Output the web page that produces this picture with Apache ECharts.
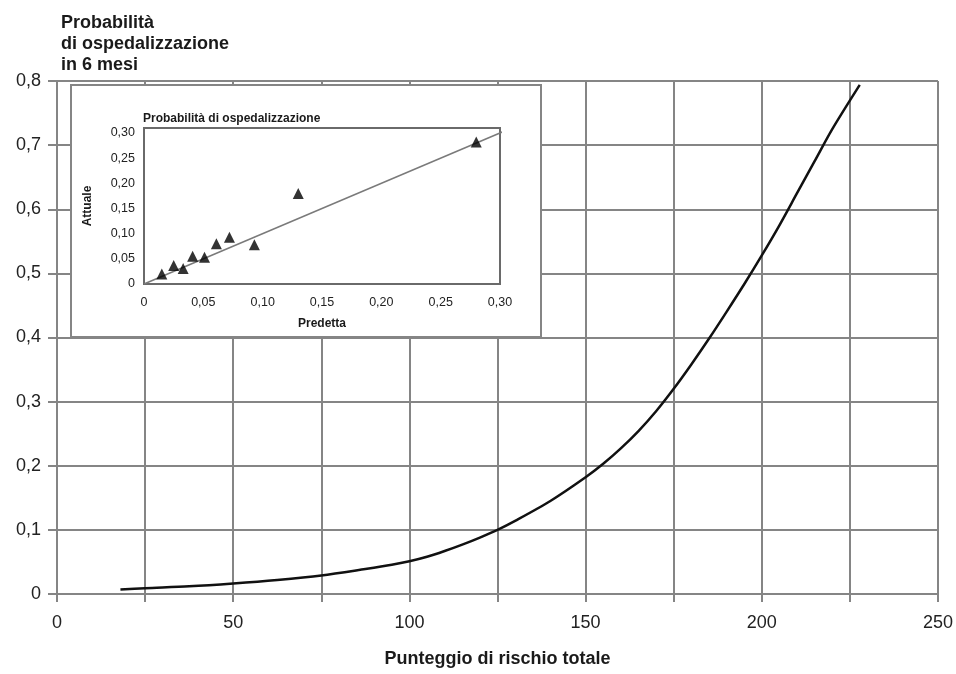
<!DOCTYPE html>
<html>
<head>
<meta charset="utf-8">
<script src="https://cdn.jsdelivr.net/npm/echarts@6/dist/echarts.min.js"></script>
<style>
  html, body { margin: 0; padding: 0; background: #fff; }
  #chart { width: 956px; height: 674px; }
</style>
</head>
<body>
<div id="chart"></div>
<script>
// curva principale: punteggio di rischio -> probabilità
const riskScore = [18, 25, 37.5, 50, 62.5, 75, 87.5, 95, 100, 105, 110, 115, 120, 125, 130, 140, 150, 155, 160, 165, 170, 175, 180, 185, 190, 195, 200, 205, 210, 215, 220, 227.8];
const hospProb = [0.007, 0.009, 0.012, 0.0165, 0.022, 0.029, 0.039, 0.0455, 0.051, 0.058, 0.067, 0.077, 0.088, 0.1, 0.114, 0.145, 0.182, 0.203, 0.227, 0.254, 0.285, 0.32, 0.358, 0.398, 0.44, 0.483, 0.528, 0.575, 0.625, 0.675, 0.725, 0.794];

// riquadro: predetta vs attuale
const predicted = [0.015, 0.025, 0.033, 0.041, 0.051, 0.061, 0.072, 0.093, 0.13, 0.28];
const actual = [0.02, 0.037, 0.031, 0.055, 0.053, 0.08, 0.093, 0.078, 0.18, 0.282];
const identity = [0, 0.31];

const xTicksMain = [0, 50, 100, 150, 200, 250];

const FONT = 'Liberation Sans, Arial, sans-serif';
const GRID_COLOR = '#858585';
const comma = (v, d) => v === 0 ? '0' : v.toFixed(d).replace('.', ',');

const chart = echarts.init(document.getElementById('chart'));

const option = {
  animation: false,
  backgroundColor: '#fff',
  textStyle: { fontFamily: FONT },
  title: [
    {
      text: 'Probabilità\ndi ospedalizzazione\nin 6 mesi',
      left: 56, top: 8,
      textStyle: { fontFamily: FONT, fontSize: 18, fontWeight: 'bold', lineHeight: 21, color: '#1a1a1a' }
    },
    {
      text: 'Probabilità di ospedalizzazione',
      left: 138, top: 108,
      z: 10,
      textStyle: { fontFamily: FONT, fontSize: 12, fontWeight: 'bold', color: '#1a1a1a' }
    }
  ],
  graphic: [
    {
      type: 'rect',
      z: 1,
      shape: { x: 71, y: 85, width: 470, height: 252 },
      style: { fill: '#fff', stroke: GRID_COLOR, lineWidth: 2 }
    }
  ],
  grid: [
    { left: 57, right: 16, top: 81, bottom: 80 },
    { left: 144, right: 456, top: 128, bottom: 390, show: true, borderColor: '#6a6a6a', borderWidth: 2, backgroundColor: 'transparent', z: 5 }
  ],
  xAxis: [
    {
      type: 'value', gridIndex: 0, min: 0, max: 250, interval: 25,
      name: 'Punteggio di rischio totale', nameLocation: 'middle', nameGap: 56,
      nameTextStyle: { fontFamily: FONT, fontSize: 18, fontWeight: 'bold', color: '#1a1a1a' },
      axisLine: { lineStyle: { color: GRID_COLOR, width: 2 } },
      axisTick: { length: 8, lineStyle: { color: GRID_COLOR, width: 2 } },
      axisLabel: {
        fontFamily: FONT, fontSize: 18, color: '#222', margin: 20,
        formatter: v => xTicksMain.includes(v) ? String(v) : ''
      },
      splitLine: { show: true, lineStyle: { color: GRID_COLOR, width: 2 } }
    },
    {
      type: 'value', gridIndex: 1, min: 0, max: 0.3, interval: 0.05, z: 6,
      name: 'Predetta', nameLocation: 'middle', nameGap: 34,
      nameTextStyle: { fontFamily: FONT, fontSize: 12, fontWeight: 'bold', color: '#1a1a1a' },
      axisLine: { show: false },
      axisTick: { show: false },
      axisLabel: { fontFamily: FONT, fontSize: 12.5, color: '#222', margin: 12, formatter: v => comma(v, 2) },
      splitLine: { show: false }
    }
  ],
  yAxis: [
    {
      type: 'value', gridIndex: 0, min: 0, max: 0.8, interval: 0.1,
      axisLine: { show: true, lineStyle: { color: GRID_COLOR, width: 2 } },
      axisTick: { show: true, length: 9, lineStyle: { color: GRID_COLOR, width: 2 } },
      axisLabel: { fontFamily: FONT, fontSize: 18, color: '#222', margin: 16, formatter: v => comma(v, 1) },
      splitLine: { show: true, lineStyle: { color: GRID_COLOR, width: 2 } }
    },
    {
      type: 'value', gridIndex: 1, min: 0, max: 0.31, interval: 0.05, z: 6,
      name: 'Attuale', nameLocation: 'middle', nameGap: 50, nameRotate: 90,
      nameTextStyle: { fontFamily: FONT, fontSize: 12, fontWeight: 'bold', color: '#1a1a1a' },
      axisLine: { show: false },
      axisTick: { show: false },
      axisLabel: { fontFamily: FONT, fontSize: 12.5, color: '#222', margin: 9, formatter: v => v > 0.3 ? '' : comma(v, 2) },
      splitLine: { show: false }
    }
  ],
  series: [
    {
      type: 'line', xAxisIndex: 0, yAxisIndex: 0,
      data: riskScore.map((x, i) => [x, hospProb[i]]),
      smooth: 0.3, showSymbol: false,
      lineStyle: { color: '#111', width: 2.5 }
    },
    {
      type: 'line', xAxisIndex: 1, yAxisIndex: 1, z: 7,
      data: identity.map(v => [v, v]),
      showSymbol: false, clip: true,
      lineStyle: { color: '#7a7a7a', width: 1.5 }
    },
    {
      type: 'scatter', xAxisIndex: 1, yAxisIndex: 1, z: 8,
      data: predicted.map((x, i) => [x, actual[i]]),
      symbol: 'triangle', symbolSize: 11,
      itemStyle: { color: '#000' }
    }
  ]
};

chart.setOption(option);
</script>
</body>
</html>
